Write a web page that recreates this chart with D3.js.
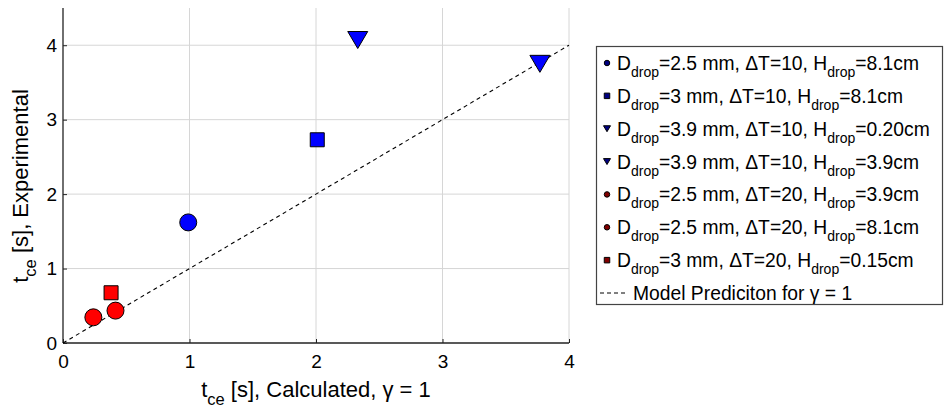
<!DOCTYPE html>
<html>
<head>
<meta charset="utf-8">
<script src="https://cdn.jsdelivr.net/npm/d3@7"></script>
<style>
  body { margin: 0; background: #fff; }
  text { font-family: "Liberation Sans", Arial, sans-serif; fill: #000; }
</style>
</head>
<body>
<div id="chart"></div>
<script>
var width = 944;
var height = 410;

// legend entries: D_drop, dT, H_drop
var dDrop = ["2.5", "3", "3.9", "3.9", "2.5", "2.5", "3"];
var deltaT = ["10", "10", "10", "10", "20", "20", "20"];
var hDrop = ["8.1", "8.1", "0.20", "3.9", "3.9", "8.1", "0.15"];
var shapes = ["circle", "square", "triangle", "triangle", "circle", "circle", "square"];
var colors = ["#0000ff", "#0000ff", "#0000ff", "#0000ff", "#ff0000", "#ff0000", "#ff0000"];
var legendColors = ["#000080", "#000080", "#000080", "#000080", "#800000", "#800000", "#800000"];
// t_ce calculated (x) and experimental (y)
var calcVals = [0.99, 2.01, 2.33, 3.77, 0.24, 0.415, 0.38];
var expVals = [1.62, 2.73, 4.07, 3.75, 0.345, 0.435, 0.675];
var xTicks = [0, 1, 2, 3, 4];
var yTicks = [0, 1, 2, 3, 4];

var svg = d3.select("#chart")
    .append("svg")
    .attr("width", width)
    .attr("height", height);

var x = d3.scaleLinear().domain([0, 4]).range([63, 569]);
var y = d3.scaleLinear().domain([0, 4.5]).range([343, 8]);

// grid
svg.append("g").selectAll("line")
    .data(xTicks.filter(function(d){ return d > 0; }))
    .enter().append("line")
    .attr("x1", function(d){ return x(d); })
    .attr("x2", function(d){ return x(d); })
    .attr("y1", y(4.5))
    .attr("y2", y(0))
    .style("stroke", "#d6d6d6")
    .style("stroke-width", 1);

svg.append("g").selectAll("line")
    .data(yTicks.filter(function(d){ return d > 0; }))
    .enter().append("line")
    .attr("x1", x(0))
    .attr("x2", x(4))
    .attr("y1", function(d){ return y(d); })
    .attr("y2", function(d){ return y(d); })
    .style("stroke", "#d6d6d6")
    .style("stroke-width", 1);

// axes
var xAxis = svg.append("g")
    .attr("transform", "translate(0," + y(0) + ")")
    .call(d3.axisBottom(x).tickValues(xTicks).tickSize(-4).tickPadding(12).tickFormat(d3.format("d")));
var yAxis = svg.append("g")
    .attr("transform", "translate(" + x(0) + ",0)")
    .call(d3.axisLeft(y).tickValues(yTicks).tickSize(-4).tickPadding(6).tickFormat(d3.format("d")));

[xAxis, yAxis].forEach(function(a){
    a.select(".domain").remove();
    a.selectAll("line").style("stroke", "#222").style("stroke-width", 1);
    a.selectAll("text")
        .style("font-family", "Liberation Sans, Arial, sans-serif")
        .style("font-size", "19px")
        .style("fill", "#000");
});

svg.append("line")
    .attr("x1", x(0)).attr("x2", x(0))
    .attr("y1", y(4.5)).attr("y2", y(0))
    .style("stroke", "#222").style("stroke-width", 1.3);
svg.append("line")
    .attr("x1", x(0)).attr("x2", x(4))
    .attr("y1", y(0)).attr("y2", y(0))
    .style("stroke", "#222").style("stroke-width", 1.3);

// model prediction line, gamma = 1
svg.append("line")
    .attr("x1", x(0)).attr("y1", y(0))
    .attr("x2", x(4)).attr("y2", y(4))
    .style("stroke", "#000")
    .style("stroke-width", 1.1)
    .style("stroke-dasharray", "4,3.5");

function markerPath(shape, s) {
    var h = s / 2;
    if (shape === "circle") {
        return d3.symbol().type(d3.symbolCircle).size(Math.PI * h * h)();
    }
    if (shape === "square") {
        return "M" + (-h) + "," + (-h) + "H" + h + "V" + h + "H" + (-h) + "Z";
    }
    var th = s * 0.85 / 2;
    return "M" + (-h) + "," + (-th) + "L" + h + "," + (-th) + "L0," + th + "Z";
}

var markerSize = { circle: 17, square: 14, triangle: 20 };

svg.append("g").selectAll("path")
    .data(d3.range(calcVals.length))
    .enter().append("path")
    .attr("transform", function(i){ return "translate(" + x(calcVals[i]) + "," + y(expVals[i]) + ")"; })
    .attr("d", function(i){ return markerPath(shapes[i], markerSize[shapes[i]]); })
    .style("fill", function(i){ return colors[i]; })
    .style("stroke", "#000")
    .style("stroke-width", 1);

// axis titles
var xt = svg.append("text")
    .attr("x", 316)
    .attr("y", 397)
    .attr("text-anchor", "middle")
    .style("font-size", "22px");
xt.append("tspan").text("t");
xt.append("tspan").attr("dy", 8).style("font-size", "16.5px").text("ce");
xt.append("tspan").attr("dy", -8).text(" [s], Calculated, \u03b3 = 1");

var yt = svg.append("text")
    .attr("transform", "translate(28,186) rotate(-90)")
    .attr("text-anchor", "middle")
    .style("font-size", "22px");
yt.append("tspan").text("t");
yt.append("tspan").attr("dy", 8).style("font-size", "16.5px").text("ce");
yt.append("tspan").attr("dy", -8).text(" [s], Experimental");

// legend
var legend = svg.append("g");
legend.append("rect")
    .attr("x", 596.5).attr("y", 46.5)
    .attr("width", 346).attr("height", 258)
    .style("fill", "#fff")
    .style("stroke", "#444")
    .style("stroke-width", 1.2);

var rowY = d3.scaleLinear().domain([0, 7]).range([63, 293]);

var rows = legend.selectAll("g.row")
    .data(d3.range(dDrop.length))
    .enter().append("g")
    .attr("class", "row")
    .attr("transform", function(i){ return "translate(0," + rowY(i) + ")"; });

rows.append("path")
    .attr("transform", "translate(607,0)")
    .attr("d", function(i){ return markerPath(shapes[i], shapes[i] === "triangle" ? 7 : 5.5); })
    .style("fill", function(i){ return legendColors[i]; })
    .style("stroke", "#000")
    .style("stroke-width", 1);

var lt = rows.append("text")
    .attr("x", 617)
    .attr("y", 7)
    .style("font-size", "19.3px");
lt.append("tspan").text("D");
lt.append("tspan").attr("dy", 7).style("font-size", "14px").text("drop");
lt.append("tspan").attr("dy", -7).text(function(i){ return "=" + dDrop[i] + " mm, \u0394T=" + deltaT[i] + ", H"; });
lt.append("tspan").attr("dy", 7).style("font-size", "14px").text("drop");
lt.append("tspan").attr("dy", -7).text(function(i){ return "=" + hDrop[i] + "cm"; });

legend.append("line")
    .attr("x1", 600).attr("x2", 627)
    .attr("y1", rowY(7)).attr("y2", rowY(7))
    .style("stroke", "#000")
    .style("stroke-width", 1)
    .style("stroke-dasharray", "4,3");
legend.append("text")
    .attr("x", 633)
    .attr("y", rowY(7) + 7)
    .style("font-size", "19.3px")
    .text("Model Prediciton for \u03b3 = 1");
</script>
</body>
</html>
